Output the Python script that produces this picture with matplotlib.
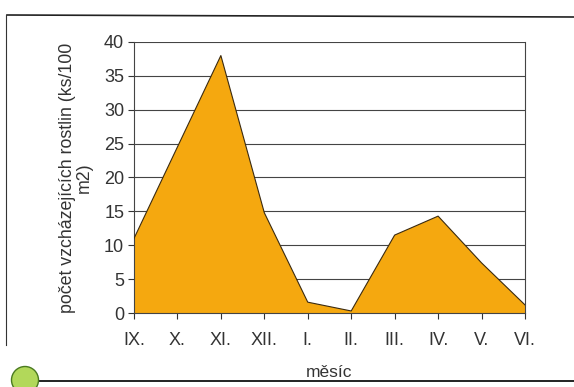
import numpy as np
import matplotlib.pyplot as plt
from matplotlib.lines import Line2D
from matplotlib.patches import Ellipse

plt.rcParams['font.family'] = ['Liberation Sans', 'DejaVu Sans']

# měsíce a počty vzcházejících rostlin
mesice = ['IX.', 'X.', 'XI.', 'XII.', 'I.', 'II.', 'III.', 'IV.', 'V.', 'VI.']
pocet = [11.0, 24.5, 38.0, 14.8, 1.6, 0.3, 11.5, 14.3, 7.4, 1.2]

fig = plt.figure(figsize=(5.74, 3.87), dpi=100)
ax = fig.add_axes([0.2334, 0.1912, 0.6812, 0.7003])

x = np.arange(len(mesice))
ax.fill_between(x, 0, pocet, color='#F5A80F', edgecolor='none', zorder=2)
ax.plot(x, pocet, color='#3a2a10', lw=0.8, zorder=3)

ax.set_xlim(0, len(mesice) - 1)
ax.set_ylim(0, 40)
ax.set_yticks(range(0, 41, 5))
ax.set_xticks(x)
ax.set_xticklabels(mesice)
ax.tick_params(axis='both', labelsize=13, colors='#333333', length=4, width=0.8, direction='out')
ax.tick_params(axis='x', pad=10)
ax.tick_params(axis='y', pad=3)
ax.grid(axis='y', color='#444444', lw=0.8, zorder=1)
ax.set_axisbelow(True)
for s in ['left', 'bottom', 'right']:
    ax.spines[s].set_color('#444444')
    ax.spines[s].set_linewidth(0.8)
ax.spines['top'].set_visible(False)

ax.set_ylabel('počet vzcházejících rostlin (ks/100\nm2)', fontsize=12.8, color='#333333',
              labelpad=8, linespacing=1.0)
ax.set_xlabel('měsíc', fontsize=12.5, color='#333333', labelpad=11)

# rámeček stránky
W, H = 574, 387
fig.add_artist(Line2D([7 / W, 1], [1 - 15 / H, 1 - 17 / H], color='#222222', lw=1.2))
fig.add_artist(Line2D([6 / W, 6 / W], [1 - 15 / H, 1 - 345 / H], color='#333333', lw=0.8))
fig.add_artist(Line2D([20 / W, 1], [1 - 381 / H, 1 - 381 / H], color='#222222', lw=1.4))
circ = Ellipse((25 / W, 1 - 380 / H), 27 / W, 27 / H, transform=fig.transFigure,
               facecolor='#b2d85a', edgecolor='#4a7a20', lw=1.0, zorder=5)
fig.add_artist(circ)

plt.savefig('out.png', dpi=100)
